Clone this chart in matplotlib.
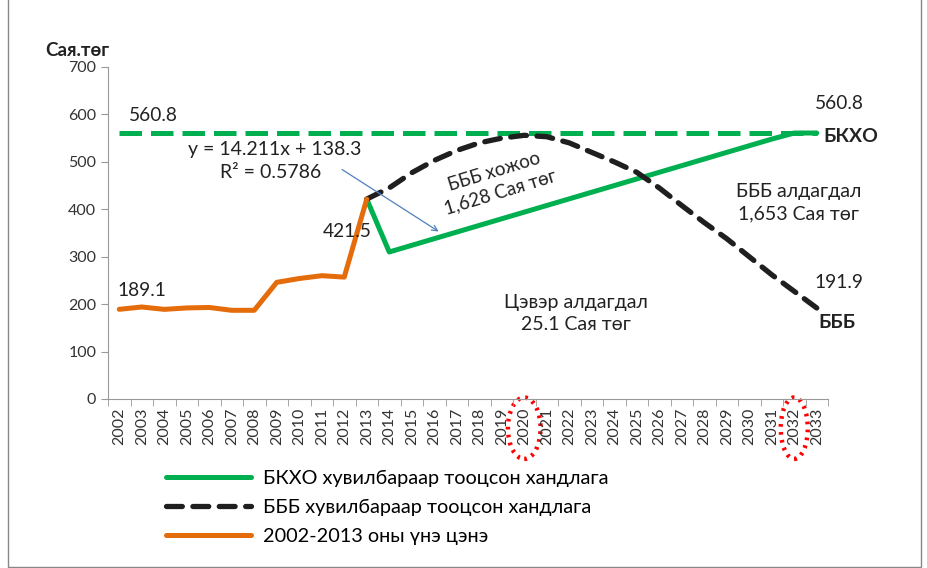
import matplotlib.pyplot as plt
from matplotlib.patches import Ellipse, Rectangle
import matplotlib.transforms as mtransforms

plt.rcParams['font.family'] = ['Lato', 'DejaVu Sans']

# Жилүүд
years = [str(y) for y in range(2002, 2034)]

# 2002-2013 оны үнэ цэнэ
hist_years = years[:12]
hist_vals = [189.1, 194, 189, 192, 193, 187, 187, 246, 254, 260, 257, 421.5]

# БКХО хувилбар (2013-2033)
bkxo_years = years[11:]
bkxo_vals = [421.5, 310, 324, 338, 352, 366, 380, 394, 408, 422, 436, 450,
             464, 478, 492, 506, 520, 534, 548, 560.8, 560.8]

# БББ хувилбар (2013-2033)
bbb_years = years[11:]
bbb_vals = [421.5, 445, 477, 503, 524, 540, 550, 556, 553, 540, 520, 500,
            478, 445, 408, 372, 338, 300, 262, 227, 191.9]

# 560.8 түвшин
level = 560.8

GREEN = '#00B050'
ORANGE = '#E46C0A'
BLACK = '#1f1f1f'
BLUE = '#4F81BD'
TXT = '#222222'

fig = plt.figure(figsize=(9.27, 5.68), dpi=100)
ax = fig.add_axes([108 / 927, 1 - 399 / 568, 720 / 927, 332 / 568])

idx = {y: i for i, y in enumerate(years)}
xh = [idx[y] for y in hist_years]
xg = [idx[y] for y in bkxo_years]
xb = [idx[y] for y in bbb_years]

ax.plot([0, len(years) - 1], [level, level], color=GREEN, lw=3.6,
        dashes=(4.5, 1.8), solid_capstyle='butt')
ax.plot(xg, bkxo_vals, color=GREEN, lw=3.6, solid_joinstyle='round',
        solid_capstyle='round', label='БКХО хувилбараар тооцсон хандлага')
ax.plot(xb, bbb_vals, color=BLACK, lw=3.8, dashes=(3.0, 2.0),
        dash_capstyle='round', label='БББ хувилбараар тооцсон хандлага')
ax.plot(xh, hist_vals, color=ORANGE, lw=3.6, solid_joinstyle='round',
        solid_capstyle='round', label='2002-2013 оны үнэ цэнэ')

ax.set_xlim(-0.5, len(years) - 0.5)
ax.set_ylim(0, 700)
ax.set_yticks(range(0, 701, 100))
ax.set_xticks(range(len(years)))
ax.set_xticklabels(years, rotation=90, fontsize=11.5, color='#333333')
ax.set_xticks([i - 0.5 for i in range(len(years) + 1)], minor=True)
ax.tick_params(axis='x', which='major', length=0, pad=6)
ax.tick_params(axis='x', which='minor', length=5, color='#999999')
ax.tick_params(axis='y', length=5, color='#999999', labelsize=11.5,
               labelcolor='#333333')
for s in ['top', 'right']:
    ax.spines[s].set_visible(False)
for s in ['left', 'bottom']:
    ax.spines[s].set_color('#999999')

fs = 13.8
ax.text(1.5, 598, '560.8', fontsize=fs, ha='center', va='center', color=TXT)
ax.text(1.0, 228, '189.1', fontsize=fs, ha='center', va='center', color=TXT)
ax.text(11.2, 354, '421.5', fontsize=fs, ha='right', va='center', color=TXT)
ax.text(6.9, 527, 'y = 14.211x + 138.3', fontsize=14, ha='center', va='center', color=TXT)
ax.text(6.75, 477, 'R² = 0.5786', fontsize=14, ha='center', va='center', color=TXT)
ax.annotate('', xy=(14.3, 350), xytext=(9.8, 487),
            arrowprops=dict(arrowstyle='->', color=BLUE, lw=0.9))
ax.text(16.8, 458, 'БББ хожоо\n1,628 Сая төг', fontsize=13.5, ha='center',
        va='center', rotation=17, linespacing=1.3, color=TXT)
ax.text(30.2, 414, 'БББ алдагдал\n1,653 Сая төг', fontsize=14, ha='center',
        va='center', linespacing=1.35, color=TXT)
ax.text(20.3, 181, 'Цэвэр алдагдал\n25.1 Сая төг', fontsize=14, ha='center',
        va='center', linespacing=1.35, color=TXT)
ax.text(32.0, 624, '560.8', fontsize=fs, ha='center', va='center', color=TXT)
ax.text(31.3, 553, 'БКХО', fontsize=14, ha='left', va='center',
        fontweight='bold', color=TXT)
ax.text(32.0, 245, '191.9', fontsize=fs, ha='center', va='center', color=TXT)
ax.text(31.9, 162, 'БББ', fontsize=14, ha='center', va='center',
        fontweight='bold', color=TXT)

# улаан тасархай эллипсүүд
trans = mtransforms.blended_transform_factory(ax.transData, ax.transAxes)
for xi, w in [(idx['2020'], 1.45), (idx['2032'], 1.2)]:
    ax.add_patch(Ellipse((xi, -0.088), w, 0.185, transform=trans, fill=False,
                         edgecolor='#FF0000', lw=3.2, linestyle=(0, (0.6, 1.2)),
                         clip_on=False))

fig.text(45 / 927, 1 - 50 / 568, 'Сая.төг', fontsize=13.5, fontweight='bold',
         ha='left', va='center', color=TXT)

fig.legend(loc='upper left', bbox_to_anchor=(158 / 927, 1 - 462 / 568),
           frameon=False, fontsize=14.3, handlelength=4.3, labelspacing=0.6,
           handletextpad=0.6, borderaxespad=0)

fig.add_artist(Rectangle((8 / 927, 0.002), 913 / 927, 1.1, transform=fig.transFigure,
                         fill=False, edgecolor='#888888', lw=1))

fig.savefig('out.png', dpi=100)
